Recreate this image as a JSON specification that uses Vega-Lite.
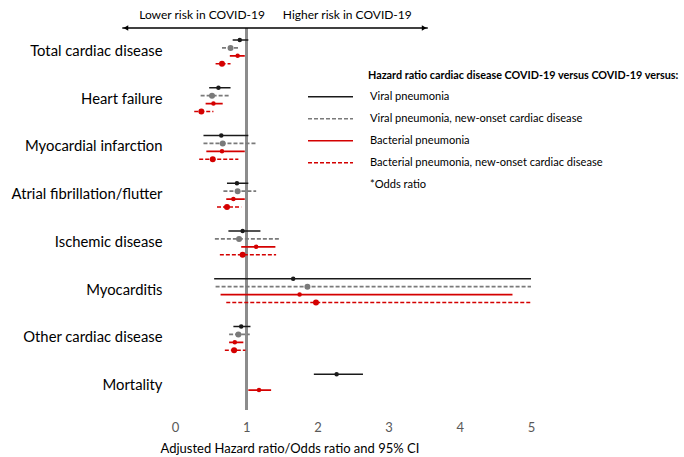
{
  "$schema": "https://vega.github.io/schema/vega-lite/v6.json",
  "autosize": {"type": "none"},
  "padding": {"left": 175, "top": 28, "right": 153, "bottom": 47},
  "width": 356,
  "height": 382,
  "config": {"view": {"stroke": null}, "font": "Lato", "background": "white"},
  "datasets": {
    "hr": [
      {"cat": "Total cardiac disease", "series": "Viral pneumonia", "est": 0.91, "lo": 0.81, "hi": 1.03},
      {"cat": "Total cardiac disease", "series": "Viral pneumonia, new-onset cardiac disease", "est": 0.78, "lo": 0.66, "hi": 0.91},
      {"cat": "Total cardiac disease", "series": "Bacterial pneumonia", "est": 0.88, "lo": 0.77, "hi": 0.98},
      {"cat": "Total cardiac disease", "series": "Bacterial pneumonia,  new-onset cardiac disease", "est": 0.66, "lo": 0.57, "hi": 0.78},
      {"cat": "Heart failure", "series": "Viral pneumonia", "est": 0.61, "lo": 0.48, "hi": 0.78},
      {"cat": "Heart failure", "series": "Viral pneumonia, new-onset cardiac disease", "est": 0.52, "lo": 0.36, "hi": 0.77},
      {"cat": "Heart failure", "series": "Bacterial pneumonia", "est": 0.54, "lo": 0.43, "hi": 0.67},
      {"cat": "Heart failure", "series": "Bacterial pneumonia,  new-onset cardiac disease", "est": 0.37, "lo": 0.27, "hi": 0.54},
      {"cat": "Myocardial infarction", "series": "Viral pneumonia", "est": 0.65, "lo": 0.40, "hi": 1.03},
      {"cat": "Myocardial infarction", "series": "Viral pneumonia, new-onset cardiac disease", "est": 0.67, "lo": 0.40, "hi": 1.14},
      {"cat": "Myocardial infarction", "series": "Bacterial pneumonia", "est": 0.66, "lo": 0.44, "hi": 0.98},
      {"cat": "Myocardial infarction", "series": "Bacterial pneumonia,  new-onset cardiac disease", "est": 0.53, "lo": 0.34, "hi": 0.89},
      {"cat": "Atrial fibrillation/flutter", "series": "Viral pneumonia", "est": 0.87, "lo": 0.73, "hi": 1.03},
      {"cat": "Atrial fibrillation/flutter", "series": "Viral pneumonia, new-onset cardiac disease", "est": 0.88, "lo": 0.68, "hi": 1.14},
      {"cat": "Atrial fibrillation/flutter", "series": "Bacterial pneumonia", "est": 0.82, "lo": 0.72, "hi": 0.98},
      {"cat": "Atrial fibrillation/flutter", "series": "Bacterial pneumonia,  new-onset cardiac disease", "est": 0.73, "lo": 0.59, "hi": 0.93},
      {"cat": "Ischemic disease", "series": "Viral pneumonia", "est": 0.95, "lo": 0.75, "hi": 1.20},
      {"cat": "Ischemic disease", "series": "Viral pneumonia, new-onset cardiac disease", "est": 0.90, "lo": 0.56, "hi": 1.47},
      {"cat": "Ischemic disease", "series": "Bacterial pneumonia", "est": 1.14, "lo": 0.93, "hi": 1.41},
      {"cat": "Ischemic disease", "series": "Bacterial pneumonia,  new-onset cardiac disease", "est": 0.95, "lo": 0.63, "hi": 1.42},
      {"cat": "Myocarditis", "series": "Viral pneumonia", "est": 1.66, "lo": 0.55, "hi": 5.0},
      {"cat": "Myocarditis", "series": "Viral pneumonia, new-onset cardiac disease", "est": 1.86, "lo": 0.57, "hi": 5.0},
      {"cat": "Myocarditis", "series": "Bacterial pneumonia", "est": 1.75, "lo": 0.64, "hi": 4.74},
      {"cat": "Myocarditis", "series": "Bacterial pneumonia,  new-onset cardiac disease", "est": 1.98, "lo": 0.72, "hi": 5.0},
      {"cat": "Other cardiac disease", "series": "Viral pneumonia", "est": 0.93, "lo": 0.82, "hi": 1.06},
      {"cat": "Other cardiac disease", "series": "Viral pneumonia, new-onset cardiac disease", "est": 0.89, "lo": 0.76, "hi": 1.05},
      {"cat": "Other cardiac disease", "series": "Bacterial pneumonia", "est": 0.84, "lo": 0.76, "hi": 0.96},
      {"cat": "Other cardiac disease", "series": "Bacterial pneumonia,  new-onset cardiac disease", "est": 0.83, "lo": 0.70, "hi": 0.99},
      {"cat": "Mortality", "series": "Viral pneumonia", "est": 2.27, "lo": 1.95, "hi": 2.64},
      {"cat": "Mortality", "series": "Bacterial pneumonia", "est": 1.18, "lo": 1.03, "hi": 1.35}
    ],
    "arrow": [
      {"from": -0.74, "to": 3.55, "y": 1}
    ],
    "heads": [
      {"x": -0.69, "shape": "triangle-left", "y": 1},
      {"x": 3.50, "shape": "triangle-right", "y": 1}
    ],
    "captions": [
      {"x": 0.38, "y": 1.034, "text": "Lower risk in COVID-19"},
      {"x": 2.42, "y": 1.034, "text": "Higher risk in COVID-19"}
    ]
  },
  "layer": [
    {
      "data": {"name": "hr"},
      "encoding": {
        "y": {
          "field": "cat", "type": "nominal",
          "sort": ["Total cardiac disease", "Heart failure", "Myocardial infarction", "Atrial fibrillation/flutter", "Ischemic disease", "Myocarditis", "Other cardiac disease", "Mortality"],
          "scale": {"paddingInner": 0, "paddingOuter": 0},
          "axis": {"title": null, "domain": false, "ticks": false, "labelFontSize": 14.8, "labelColor": "#000", "labelPadding": 13, "labelFont": "Lato", "labelLimit": 300}
        },
        "yOffset": {"field": "series", "type": "nominal", "scale": {"domain": ["Viral pneumonia", "Viral pneumonia, new-onset cardiac disease", "Bacterial pneumonia", "Bacterial pneumonia,  new-onset cardiac disease"], "paddingInner": 0, "paddingOuter": 1.18}},
        "color": {"field": "series", "type": "nominal",
          "scale": {"domain": ["Viral pneumonia", "Viral pneumonia, new-onset cardiac disease", "Bacterial pneumonia", "Bacterial pneumonia,  new-onset cardiac disease", "*Odds ratio"], "range": ["#1a1a1a", "#7a7a7a", "#d40000", "#d40000", "transparent"]},
          "legend": {"title": "Hazard ratio cardiac disease COVID-19 versus COVID-19 versus:", "orient": "none", "legendX": 193, "legendY": 42, "padding": 0, "symbolType": "M-1.5,0H1.5", "symbolSize": 900, "symbolStrokeWidth": 1.6, "symbolFillColor": "transparent", "symbolOffset": -53.5, "labelOffset": 23.5, "rowPadding": 0, "titlePadding": 0, "titleFontSize": 10.8, "titleFontWeight": "bold", "titleColor": "#000", "labelFontSize": 11.1, "labelColor": "#000", "labelLimit": 400, "titleLimit": 500}}
      },
      "layer": [
        {
          "mark": {"type": "rule", "color": "#8c8c8c", "strokeWidth": 2},
          "encoding": {"x": {"datum": 1}, "y": null, "yOffset": null, "color": null}
        },
        {
          "mark": {"type": "rule", "strokeWidth": 1.6},
          "encoding": {
            "x": {"field": "lo", "type": "quantitative", "scale": {"domain": [0, 5], "nice": false},
              "axis": {"title": "Adjusted Hazard ratio/Odds ratio and 95% CI", "values": [0, 1, 2, 3, 4, 5], "format": "d", "labelFlush": false, "domain": false, "ticks": false, "tickSize": 0, "grid": false, "labelFontSize": 13, "labelColor": "#595959", "labelPadding": 11, "titleFontSize": 13, "titleFontWeight": "normal", "titleColor": "#000", "titleAnchor": "start", "titleAlign": "left", "titleX": -15, "titlePadding": 8}},
            "x2": {"field": "hi"},
            "strokeDash": {"field": "series", "type": "nominal",
              "scale": {"domain": ["Viral pneumonia", "Viral pneumonia, new-onset cardiac disease", "Bacterial pneumonia", "Bacterial pneumonia,  new-onset cardiac disease", "*Odds ratio"], "range": [[1, 0], [4, 2], [1, 0], [4, 2], [1, 0]]},
              "legend": {"title": "Hazard ratio cardiac disease COVID-19 versus COVID-19 versus:"}}
          }
        },
        {
          "transform": [{"filter": {"field": "series", "oneOf": ["Viral pneumonia", "Bacterial pneumonia"]}}],
          "mark": {"type": "point", "filled": true, "opacity": 1, "shape": "circle", "size": 20},
          "encoding": {"x": {"field": "est", "type": "quantitative"}}
        },
        {
          "transform": [{"filter": {"field": "series", "oneOf": ["Viral pneumonia, new-onset cardiac disease", "Bacterial pneumonia,  new-onset cardiac disease"]}}],
          "mark": {"type": "point", "filled": true, "opacity": 1, "shape": "circle", "size": 36},
          "encoding": {"x": {"field": "est", "type": "quantitative"}}
        }
      ]
    },
    {
      "encoding": {
        "y": {"field": "y", "type": "quantitative", "scale": {"domain": [0, 1], "nice": false, "zero": false}, "axis": null}
      },
      "layer": [
        {
          "data": {"name": "arrow"},
          "mark": {"type": "rule", "color": "#000", "strokeWidth": 1.5, "clip": false},
          "encoding": {"x": {"field": "from", "type": "quantitative"}, "x2": {"field": "to"}}
        },
        {
          "data": {"name": "heads"},
          "mark": {"type": "point", "filled": true, "color": "#000", "opacity": 1, "size": 30, "clip": false},
          "encoding": {"x": {"field": "x", "type": "quantitative"}, "shape": {"field": "shape", "type": "nominal", "scale": null}}
        },
        {
          "data": {"name": "captions"},
          "mark": {"type": "text", "fontSize": 12, "color": "#000", "align": "center", "baseline": "middle", "clip": false, "font": "Lato"},
          "encoding": {"x": {"field": "x", "type": "quantitative"}, "text": {"field": "text"}}
        }
      ]
    }
  ],
  "resolve": {"scale": {"y": "independent"}, "axis": {"y": "independent"}}
}
